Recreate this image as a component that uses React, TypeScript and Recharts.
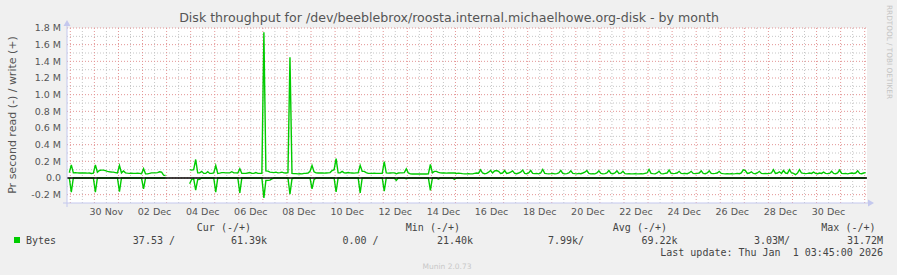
import { LineChart, Line, XAxis, YAxis, CartesianGrid, ReferenceLine } from "recharts"

// hours counted from 29 Nov 00:00, one sample every 2h (01:00, 03:00, ... 23:00)
const firstSample = { h: -1, writeK: 65, readK: 0 }

// write (+) in kB/s, one row per day starting 29 Nov
const writeK: (number | null)[][] = [
  [158, 62, 65, 62, 60, 62, 60, 62, 58, 60, 55, 58],
  [158, 70, 90, 95, 95, 88, 80, 75, 72, 70, 65, 60],
  [150, 62, 85, 62, 58, 55, 58, 55, 55, 58, 55, 52],
  [112, 50, 50, 55, 62, 62, 62, 65, 75, 70, 35, 30],
  [null, null, null, null, null, null, null, null, null, null, null, 100],
  [95, 100, 222, 62, 62, 80, 55, 55, 75, 55, 55, 60],
  [150, 55, 58, 65, 65, 62, 62, 62, 75, 62, 62, 60],
  [112, 55, 55, 55, 60, 65, 55, 55, 65, 55, 55, 55],
  [1750, 85, 82, 70, 68, 65, 70, 62, 65, 70, 62, 60],
  [65, 1450, 55, 52, 52, 50, 52, 50, 55, 55, 60, 80],
  [150, 75, 62, 60, 60, 60, 58, 60, 62, 65, 90, 100],
  [232, 62, 62, 80, 62, 60, 65, 62, 60, 58, 62, 62],
  [152, 80, 80, 65, 55, 55, 55, 58, 55, 55, 55, 55],
  [196, 62, 58, 60, 62, 62, 50, 60, 62, 62, 65, 110],
  [60, 50, 48, 48, 48, 48, 48, 50, 48, 48, 50, 162],
  [62, 80, 80, 68, 62, 60, 62, 58, 60, 62, 60, 60],
  [55, 58, 55, 52, 50, 50, 52, 50, 50, 55, 60, 58],
  [98, 60, 52, 55, 70, 91, 60, 85, 90, 80, 55, 60],
  [90, 55, 60, 70, 85, 55, 52, 60, 70, 95, 55, 52],
  [60, 90, 55, 52, 55, 50, 60, 102, 55, 52, 50, 52],
  [55, 50, 52, 60, 90, 55, 50, 52, 60, 85, 55, 52],
  [50, 55, 52, 60, 70, 90, 55, 50, 52, 50, 60, 85],
  [55, 50, 52, 60, 90, 55, 52, 60, 85, 55, 58, 80],
  [52, 50, 52, 50, 50, 52, 50, 50, 52, 50, 55, 60],
  [102, 55, 52, 50, 60, 80, 52, 50, 55, 60, 95, 55],
  [52, 55, 60, 80, 55, 52, 55, 52, 60, 80, 55, 52],
  [55, 60, 85, 55, 52, 60, 85, 55, 52, 55, 60, 80],
  [55, 52, 50, 52, 50, 52, 50, 52, 55, 52, 60, 97],
  [90, 55, 60, 75, 55, 52, 60, 80, 55, 52, 55, 52],
  [55, 60, 99, 55, 60, 75, 55, 90, 60, 55, 101, 60],
  [55, 40, 60, 101, 60, 55, 52, 55, 60, 55, 70, 55],
  [52, 60, 55, 70, 55, 52, 55, 80, 55, 52, 60, 95],
  [55, 52, 55, 50, 55, 60, 55, 60, 85, 55, 52, 60],
  [65],
]

// read (-) in kB/s, drawn below zero
const readK: (number | null)[][] = [
  [-170, 0, 0, 0, 0, 0, 0, 0, 0, 0, 0, 0],
  [-170, 0, 0, 0, 0, 0, 0, 0, 0, 0, 0, 0],
  [-165, 0, 0, 0, 0, 0, 0, 0, 0, 0, 0, 0],
  [-130, 0, 0, 0, 0, 0, 0, 0, 0, 0, 0, 0],
  [null, null, null, null, null, null, null, null, null, null, null, -70],
  [-15, -10, -146, -20, -15, 0, 0, 0, 0, 0, 0, 0],
  [-170, 0, 0, 0, 0, 0, 0, 0, 0, 0, 0, 0],
  [-180, 0, 0, 0, 0, 0, 0, 0, 0, 0, 0, 0],
  [-238, -30, -28, -25, -10, 0, 0, 0, 0, 0, 0, 0],
  [0, -195, -10, 0, 0, 0, 0, 0, 0, 0, 0, 0],
  [-130, -20, 0, 0, 0, 0, 0, 0, 0, 0, 0, 0],
  [-168, 0, 0, 0, 0, 0, 0, 0, 0, 0, 0, 0],
  [-180, 0, 0, 0, 0, 0, 0, 0, 0, 0, 0, 0],
  [-158, 0, 0, 0, 0, 0, -30, 0, 0, 0, 0, -10],
  [0, 0, 0, 0, 0, 0, 0, 0, 0, 0, 0, -148],
  [0, 0, 0, -12, 0, 0, 0, 0, 0, 0, 0, -18],
  [0, 0, 0, 0, 0, 0, 0, 0, 0, 0, 0, 0],
  [0, 0, 0, 0, 0, 0, 0, 0, 0, 0, 0, 0],
  [0, 0, 0, 0, 0, 0, 0, 0, 0, 0, 0, 0],
  [0, 0, 0, 0, 0, 0, 0, 0, 0, 0, 0, 0],
  [0, 0, 0, 0, 0, 0, 0, 0, 0, 0, 0, 0],
  [0, 0, 0, 0, 0, 0, 0, 0, 0, 0, 0, 0],
  [0, 0, 0, 0, 0, 0, 0, 0, 0, 0, 0, 0],
  [0, 0, 0, 0, 0, 0, 0, 0, 0, 0, 0, 0],
  [0, 0, 0, 0, 0, 0, 0, 0, 0, 0, 0, 0],
  [0, 0, 0, 0, 0, 0, 0, 0, 0, 0, 0, 0],
  [0, 0, 0, 0, 0, 0, 0, 0, 0, 0, 0, 0],
  [0, 0, 0, 0, 0, 0, 0, 0, 0, 0, 0, 0],
  [0, 0, 0, 0, 0, 0, 0, 0, 0, 0, 0, 0],
  [0, 0, 0, 0, 0, 0, 0, 0, 0, 0, 0, 0],
  [0, 0, 0, 0, 0, 0, 0, 0, 0, 0, 0, 0],
  [0, 0, 0, 0, 0, 0, 0, 0, 0, 0, 0, 0],
  [0, 0, 0, 0, 0, 0, 0, 0, 0, 0, 0, 0],
  [0],
]

// labels sit at noon of every other day, starting 30 Nov (day 1)
const dayLabels = [
  "30 Nov", "02 Dec", "04 Dec", "06 Dec", "08 Dec", "10 Dec", "12 Dec", "14 Dec",
  "16 Dec", "18 Dec", "20 Dec", "22 Dec", "24 Dec", "26 Dec", "28 Dec", "30 Dec",
]
const yTicks = [-200000, 0, 200000, 400000, 600000, 800000, 1000000, 1200000, 1400000, 1600000, 1800000]

const legendHeads = ["Cur (-/+)", "Min (-/+)", "Avg (-/+)", "Max (-/+)"]
const legendVals = ["37.53 /", "61.39k", "0.00 /", "21.40k", "7.99k/", "69.22k", "3.03M/", "31.72M"]

const data = [
  { h: firstSample.h, write: firstSample.writeK * 1000, read: firstSample.readK * 1000 },
  ...writeK.flatMap((row, d) =>
    row.map((w, i) => {
      const r = readK[d][i]
      return {
        h: d * 24 + 1 + i * 2,
        write: w == null ? null : w * 1000,
        read: r == null ? null : r * 1000,
      }
    })
  ),
]

const xTicks = dayLabels.map((_, i) => (1 + 2 * i) * 24 + 12)
const majorX = Array.from({ length: 34 }, (_, i) => i * 24)
const minorX = Array.from({ length: 33 }, (_, i) => i * 24 + 12)
const majorY = yTicks
const minorY = [-100000, 100000, 300000, 500000, 700000, 900000, 1100000, 1300000, 1500000, 1700000]

const fmtY = (v: number) => (v === 0 ? "0.0" : `${(v / 1e6).toFixed(1)} M`)
const fmtX = (v: number) => dayLabels[xTicks.indexOf(v)] ?? ""

const tickStyle = { fontSize: 9.5, fill: "#555", fontFamily: "DejaVu Sans" }
const mono = { fontFamily: "DejaVu Sans Mono", fontSize: 10, fill: "#444" }

export default function App() {
  return (
    <div style={{ position: "absolute", left: 0, top: 0, width: 897, height: 275, background: "#f0f0f0" }}>
      <LineChart width={897} height={275} data={data} margin={{ top: 28, right: 30, bottom: 42, left: 7 }}>
        <CartesianGrid fill="#fff" stroke="#c6c6c6" strokeDasharray="1 2" horizontalValues={minorY} verticalValues={minorX} />
        <CartesianGrid stroke="#e39494" strokeDasharray="1 2" horizontalValues={majorY} verticalValues={majorX} />
        <XAxis
          type="number"
          dataKey="h"
          domain={[-3.3, 794.3]}
          allowDataOverflow
          ticks={xTicks}
          interval={0}
          tickFormatter={fmtX}
          axisLine={false}
          tickLine={false}
          tickSize={0}
          tickMargin={5}
          height={30}
          tick={tickStyle}
        />
        <YAxis
          type="number"
          domain={[-300000, 1800000]}
          allowDataOverflow
          ticks={yTicks}
          interval={0}
          tickFormatter={fmtY}
          axisLine={false}
          tickLine={false}
          tickSize={0}
          tickMargin={6}
          width={60}
          tick={tickStyle}
        />
        <Line type="linear" dataKey="read" stroke="#00cc00" strokeWidth={1.4} dot={false} activeDot={false} isAnimationActive={false} />
        <Line type="linear" dataKey="write" stroke="#00cc00" strokeWidth={1.4} dot={false} activeDot={false} isAnimationActive={false} />
        <ReferenceLine y={0} stroke="#000" strokeWidth={1.5} />
      </LineChart>

      <svg width={897} height={275} style={{ position: "absolute", left: 0, top: 0, pointerEvents: "none" }}>
        {/* axes with arrows */}
        <line x1={67} y1={207} x2={67} y2={25} stroke="#c4c8ee" />
        <polygon points="63.5,26 70.5,26 67,20" fill="#c4c8ee" />
        <line x1={63} y1={203} x2={868} y2={203} stroke="#c4c8ee" />
        <polygon points="868,199.5 868,206.5 874,203" fill="#c4c8ee" />

        <text x={449} y={22} textAnchor="middle" fontFamily="DejaVu Sans" fontSize={12.6} fill="#555">
          Disk throughput for /dev/beeblebrox/roosta.internal.michaelhowe.org-disk - by month
        </text>
        <text x={16} y={115} transform="rotate(-90 16 115)" textAnchor="middle" fontFamily="DejaVu Sans" fontSize={11} fill="#555">
          Pr second read (-) / write (+)
        </text>
        <text x={887} y={5} transform="rotate(90 887 5)" textAnchor="start" fontFamily="DejaVu Sans" fontSize={7.3} fill="#c4c4c4">
          RRDTOOL / TOBI OETIKER
        </text>

        {/* legend */}
        {legendHeads.map((t, i) => (
          <text key={t} x={[251, 460, 667, 875.5][i]} y={231} textAnchor="end" {...mono}>{t}</text>
        ))}
        <rect x={14} y={237} width={6} height={6} fill="#00cc00" />
        <text x={26} y={244} {...mono}>Bytes</text>
        {legendVals.map((t, i) => (
          <text key={t} x={[175, 267, 378.5, 473, 584, 677.5, 790, 883][i]} y={244} textAnchor="end" {...mono} xmlSpace="preserve">{t}</text>
        ))}
        <text x={883} y={256} textAnchor="end" {...mono} xmlSpace="preserve">Last update: Thu Jan  1 03:45:00 2026</text>
        <text x={447} y={269} textAnchor="middle" fontFamily="DejaVu Sans" fontSize={7.5} fill="#c8c8c8">Munin 2.0.73</text>
      </svg>
    </div>
  )
}
